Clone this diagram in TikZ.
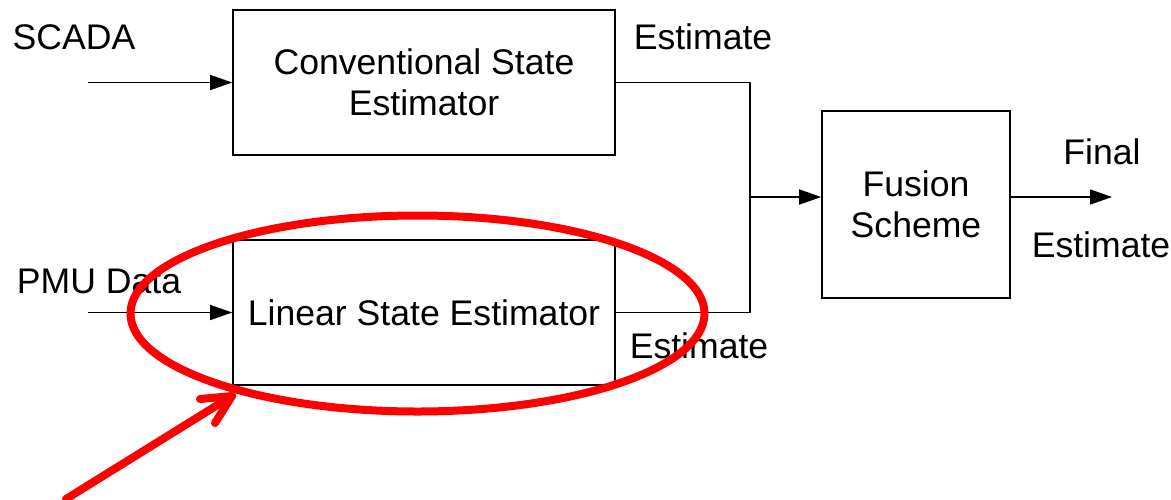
\documentclass[tikz,border=0pt]{standalone}
\usepackage{fontspec}
\setmainfont{Liberation Sans}
\usetikzlibrary{arrows.meta}
\begin{document}
\begin{tikzpicture}[x=1pt,y=-1pt,
  every node/.style={font=\fontsize{35.6}{41.5}\selectfont},
  blk/.style={draw, line width=1.6pt, align=center, inner sep=0pt},
  lbl/.style={anchor=base, inner sep=0pt},
  wire/.style={line width=1.6pt},
  arr/.style={wire, -{Triangle[length=22pt,width=15pt]}},
  redmark/.style={draw=red, line width=8pt, line cap=round, line join=round}]
\useasboundingbox (0,0) rectangle (1171,499);
% blocks
\node[blk, minimum width=382pt, minimum height=145pt] (cse) at (424,82.5) {Conventional State\\Estimator};
\node[blk, minimum width=382pt, minimum height=145pt] (lse) at (424,312.5) {Linear State Estimator};
\node[blk, minimum width=188pt, minimum height=187pt] (fus) at (916,204.5) {Fusion\\Scheme};
% coordinates
\coordinate (scadaIn) at (88,82.5);
\coordinate (pmuIn) at (88,312.5);
\coordinate (J) at (750,197);
\coordinate (fend) at (1112,197);
% labels
\node[lbl] (scada) at (74,49) {SCADA};
\node[lbl] (pmu) at (99,293) {PMU Data};
\node[lbl] (est1) at (703,49) {Estimate};
\node[lbl] (est2) at (699,358) {Estimate};
\node[lbl] (fin) at (1102,164) {Final};
\node[lbl] (est3) at (1101,257) {Estimate};
% connectors
\draw[arr] (scadaIn) -- (cse.west);
\draw[arr] (pmuIn) -- (lse.west);
\draw[wire] (cse.east) -| (J);
\draw[wire] (lse.east) -| (J);
\draw[arr] (J) -- (J -| fus.west);
\draw[arr] (J -| fus.east) -- (fend);
% red highlight
\draw[redmark] (417.5,313.5) ellipse [x radius=287, y radius=98];
\coordinate (redTail) at (66,499);
\coordinate (redTip) at (232,396);
\coordinate (wingA) at (200,399);
\coordinate (wingB) at (215,423);
\draw[redmark] (redTail) -- (redTip);
\draw[redmark] (wingA) -- (redTip) -- (wingB);
\end{tikzpicture}
\end{document}
